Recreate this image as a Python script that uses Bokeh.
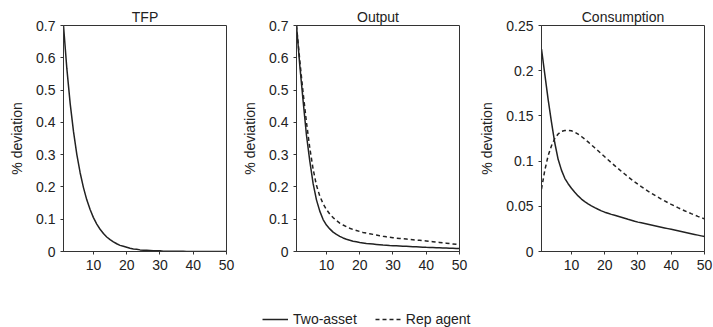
from bokeh.plotting import figure
from bokeh.layouts import row, column
from bokeh.models import FixedTicker, ColumnDataSource, Legend, LegendItem
from bokeh.embed import file_html
from bokeh.resources import INLINE

# ---------------- data ----------------
quarters = list(range(1, 51))

tfp_two_asset = [
    0.700, 0.567, 0.459, 0.372, 0.301, 0.244, 0.198, 0.160, 0.130, 0.105,
    0.085, 0.069, 0.056, 0.045, 0.037, 0.030, 0.024, 0.019, 0.016, 0.013,
    0.010, 0.008, 0.007, 0.005, 0.004, 0.004, 0.003, 0.002, 0.002, 0.002,
    0.001, 0.001, 0.001, 0.001, 0.0007, 0.0005, 0.0004, 0.0003, 0.0003, 0.0002,
    0.0002, 0.0001, 0.0001, 0.0001, 0.0001, 0.0, 0.0, 0.0, 0.0, 0.0,
]

output_two_asset = [
    0.700, 0.575, 0.465, 0.360, 0.280, 0.210, 0.160, 0.125, 0.099, 0.082,
    0.070, 0.060, 0.053, 0.047, 0.042, 0.038, 0.035, 0.032, 0.030, 0.028,
    0.0265, 0.025, 0.024, 0.023, 0.022, 0.021, 0.020, 0.0193, 0.0186, 0.018,
    0.0175, 0.017, 0.0165, 0.016, 0.0155, 0.015, 0.0145, 0.014, 0.0135, 0.013,
    0.0126, 0.0122, 0.0118, 0.0114, 0.011, 0.0106, 0.0102, 0.0098, 0.0094, 0.009,
]

output_rep_agent = [
    0.700, 0.590, 0.490, 0.400, 0.320, 0.255, 0.205, 0.172, 0.148, 0.130,
    0.116, 0.105, 0.096, 0.088, 0.082, 0.077, 0.072, 0.068, 0.065, 0.062,
    0.059, 0.057, 0.055, 0.053, 0.051, 0.049, 0.047, 0.0455, 0.044, 0.0425,
    0.0415, 0.0405, 0.0395, 0.0385, 0.0375, 0.0365, 0.0355, 0.0345, 0.0335, 0.0325,
    0.0314, 0.0303, 0.0292, 0.0281, 0.027, 0.0258, 0.0246, 0.0234, 0.0222, 0.021,
]

cons_two_asset = [
    0.224, 0.196, 0.168, 0.143, 0.120, 0.102, 0.090, 0.081, 0.075, 0.070,
    0.0655, 0.0615, 0.058, 0.0552, 0.0527, 0.0505, 0.0485, 0.0467, 0.045, 0.0435,
    0.0423, 0.0411, 0.0400, 0.0389, 0.0378, 0.0367, 0.0356, 0.0346, 0.0335, 0.0325,
    0.0317, 0.0309, 0.0301, 0.0293, 0.0285, 0.0277, 0.0269, 0.0261, 0.0253, 0.0245,
    0.0237, 0.0229, 0.0221, 0.0213, 0.0205, 0.0197, 0.0189, 0.0181, 0.0173, 0.0165,
]

cons_rep_agent = [
    0.069, 0.090, 0.106, 0.117, 0.125, 0.130, 0.133, 0.1338, 0.134, 0.1335,
    0.132, 0.1298, 0.1272, 0.1243, 0.1212, 0.118, 0.1147, 0.1114, 0.1081, 0.1048,
    0.1015, 0.0982, 0.095, 0.0918, 0.0887, 0.0857, 0.0827, 0.0798, 0.077, 0.0743,
    0.0717, 0.0692, 0.0668, 0.0645, 0.0623, 0.0601, 0.058, 0.056, 0.054, 0.0521,
    0.0503, 0.0485, 0.0468, 0.0451, 0.0435, 0.0419, 0.0404, 0.0389, 0.0375, 0.0361,
]

panel_titles = ["TFP", "Output", "Consumption"]
x_ticks = [10, 20, 30, 40, 50]
y_ticks_07 = [0, 0.1, 0.2, 0.3, 0.4, 0.5, 0.6, 0.7]
y_labels_07 = ["0", "0.1", "0.2", "0.3", "0.4", "0.5", "0.6", "0.7"]
y_ticks_025 = [0, 0.05, 0.1, 0.15, 0.2, 0.25]
y_labels_025 = ["0", "0.05", "0.1", "0.15", "0.2", "0.25"]
legend_labels = ["Two-asset", "Rep agent"]

# ---------------- styling ----------------
FONT = "Liberation Sans"
INK = "#222222"
FRAME = "#333333"
LW = 1.5
DASH = "4 3"


def key(v):
    return int(v) if float(v) == int(v) else v


def make_panel(title, width, left, right, y_max, yt, yl, axis_standoff):
    p = figure(width=width, height=288, x_range=(1, 50), y_range=(0, y_max),
               output_backend="svg", toolbar_location=None,
               min_border_left=left, min_border_right=right,
               min_border_top=25, min_border_bottom=37)
    p.title.text = title
    p.title.align = "center"
    p.title.text_font = FONT
    p.title.text_font_size = "14px"
    p.title.text_font_style = "normal"
    p.title.text_color = INK
    p.title.standoff = 2
    p.outline_line_color = FRAME
    p.outline_line_width = 1
    p.grid.grid_line_color = None
    for ax in (p.xaxis[0], p.yaxis[0]):
        ax.axis_line_color = FRAME
        ax.major_tick_line_color = FRAME
        ax.major_tick_out = 3
        ax.major_tick_in = 0
        ax.minor_tick_line_color = None
        ax.major_label_text_font = FONT
        ax.major_label_text_font_size = "14px"
        ax.major_label_text_color = INK
        ax.major_label_standoff = 5
    p.xaxis.ticker = FixedTicker(ticks=x_ticks)
    p.yaxis.ticker = FixedTicker(ticks=yt)
    p.yaxis.major_label_overrides = {key(v): s for v, s in zip(yt, yl)}
    p.yaxis.axis_label = "% deviation"
    p.yaxis.axis_label_text_font = FONT
    p.yaxis.axis_label_text_font_size = "14px"
    p.yaxis.axis_label_text_font_style = "normal"
    p.yaxis.axis_label_text_color = INK
    p.yaxis.axis_label_standoff = axis_standoff
    return p


p1 = make_panel(panel_titles[0], 236, 63, 10, 0.7, y_ticks_07, y_labels_07, 8)
p1.line(quarters, tfp_two_asset, line_color=INK, line_width=LW)

p2 = make_panel(panel_titles[1], 239, 60, 16, 0.7, y_ticks_07, y_labels_07, 8)
p2.line(quarters, output_rep_agent, line_color=INK, line_width=LW, line_dash=DASH)
p2.line(quarters, output_two_asset, line_color=INK, line_width=LW)

p3 = make_panel(panel_titles[2], 238, 66, 9, 0.25, y_ticks_025, y_labels_025, 8)
p3.line(quarters, cons_rep_agent, line_color=INK, line_width=LW, line_dash=DASH)
p3.line(quarters, cons_two_asset, line_color=INK, line_width=LW)

# ---------------- legend ----------------
lf = figure(width=713, height=39, x_range=(0, 1), y_range=(0, 1),
            output_backend="svg", toolbar_location=None,
            x_axis_location=None, y_axis_location=None, min_border=0)
lf.outline_line_color = None
lf.grid.grid_line_color = None
empty = ColumnDataSource(dict(x=[float("nan")], y=[float("nan")]))
r_solid = lf.line("x", "y", source=empty, line_color=INK, line_width=LW)
r_dash = lf.line("x", "y", source=empty, line_color=INK, line_width=LW, line_dash=DASH)
legend = Legend(items=[LegendItem(label=legend_labels[0], renderers=[r_solid]),
                       LegendItem(label=legend_labels[1], renderers=[r_dash])],
                location=(262, 0), orientation="horizontal",
                glyph_width=26, glyph_height=14, label_height=14,
                label_standoff=5, spacing=18, padding=0, margin=0,
                border_line_color=None, background_fill_alpha=0,
                label_text_font=FONT, label_text_font_size="14px",
                label_text_color=INK)
lf.add_layout(legend)

layout = column(row(p1, p2, p3), lf)

open("out.html", "w").write(file_html(layout, INLINE))
